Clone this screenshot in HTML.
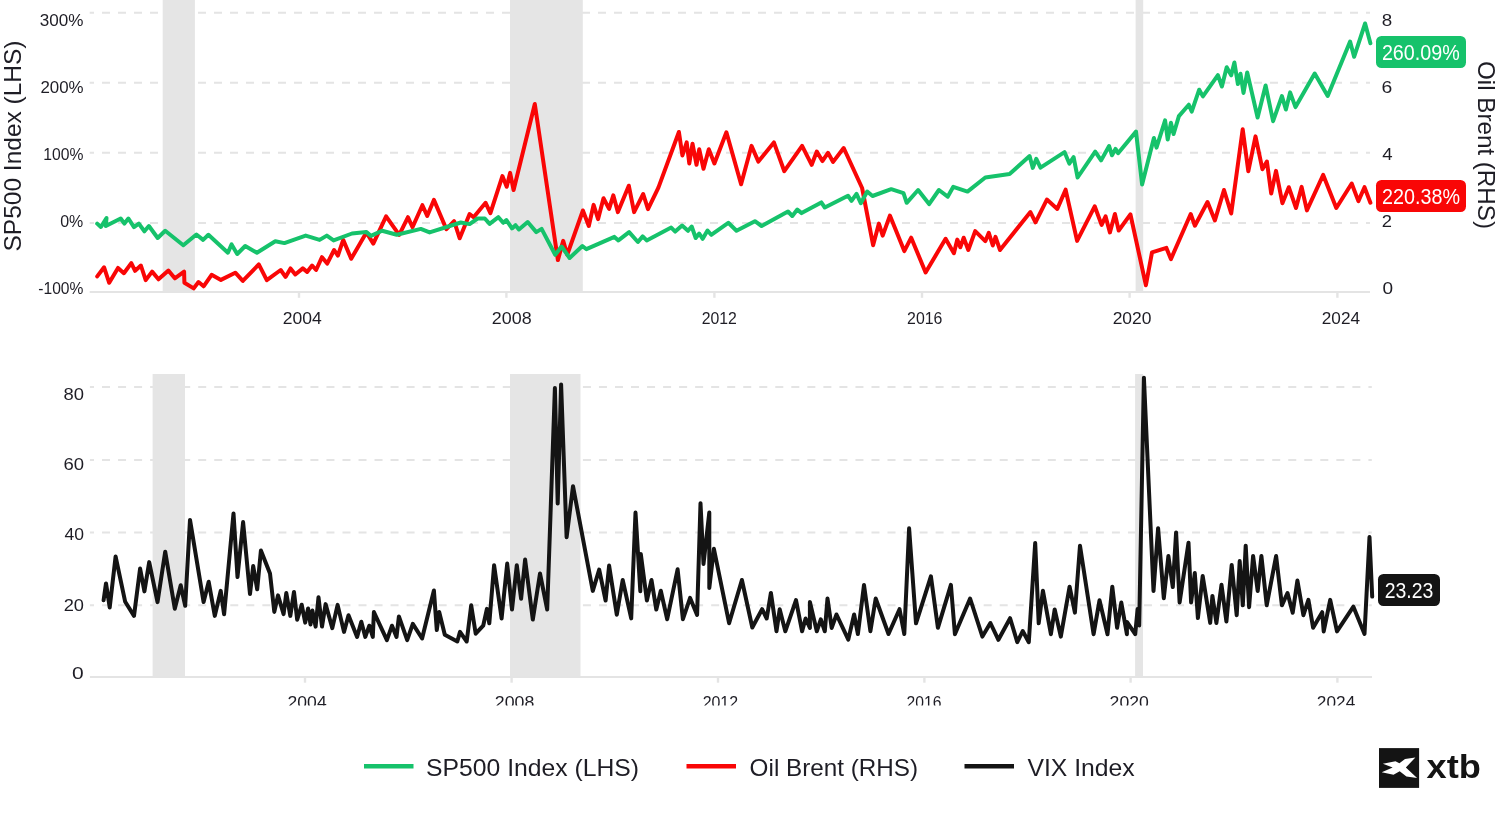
<!DOCTYPE html>
<html lang="en"><head><meta charset="utf-8"><title>SP500 Index, Oil Brent and VIX Index</title>
<style>html,body{margin:0;padding:0;background:#fff}body{width:1500px;height:820px;overflow:hidden}svg{display:block}text{font-family:"Liberation Sans", Arial, sans-serif;fill:#1e1d25}.t{font-size:16.5px}.big{font-size:24px}.bd{font-size:22.5px;fill:#fff}.logo{font-size:34px;font-weight:bold;fill:#141414}.ln{fill:none;stroke-width:4.0;stroke-linejoin:round;stroke-linecap:round}</style></head><body>
<svg width="1500" height="820" viewBox="0 0 1500 820" style="will-change:transform">
<rect width="1500" height="820" fill="#fff"/>
<g id="top">
<line x1="89.7" x2="1370" y1="12.7" y2="12.7" stroke="#e4e4e4" stroke-width="2" stroke-dasharray="8 8" stroke-dashoffset="3.7"/>
<line x1="89.7" x2="1370" y1="82.7" y2="82.7" stroke="#e4e4e4" stroke-width="2" stroke-dasharray="8 8" stroke-dashoffset="3.7"/>
<line x1="89.7" x2="1370" y1="152.7" y2="152.7" stroke="#e4e4e4" stroke-width="2" stroke-dasharray="8 8" stroke-dashoffset="3.7"/>
<line x1="89.7" x2="1370" y1="222.9" y2="222.9" stroke="#e4e4e4" stroke-width="2" stroke-dasharray="8 8" stroke-dashoffset="3.7"/>
<rect x="162.7" y="0" width="32.2" height="292" fill="#e5e5e5"/>
<rect x="510" y="0" width="72.8" height="292" fill="#e5e5e5"/>
<rect x="1135.6" y="0" width="7.6" height="292" fill="#e5e5e5"/>
<line x1="89.7" x2="1370" y1="292" y2="292" stroke="#e4e4e4" stroke-width="2"/>
<line x1="299" x2="299" y1="292" y2="297.8" stroke="#e4e4e4" stroke-width="2.4"/>
<line x1="506.4" x2="506.4" y1="292" y2="297.8" stroke="#e4e4e4" stroke-width="2.4"/>
<line x1="714.4" x2="714.4" y1="292" y2="297.8" stroke="#e4e4e4" stroke-width="2.4"/>
<line x1="922" x2="922" y1="292" y2="297.8" stroke="#e4e4e4" stroke-width="2.4"/>
<line x1="1129.6" x2="1129.6" y1="292" y2="297.8" stroke="#e4e4e4" stroke-width="2.4"/>
<line x1="1337.4" x2="1337.4" y1="292" y2="297.8" stroke="#e4e4e4" stroke-width="2.4"/>
<text class="t" x="39.83" y="26" textLength="43.67" lengthAdjust="spacingAndGlyphs">300%</text>
<text class="t" x="40.44" y="93" textLength="43.19" lengthAdjust="spacingAndGlyphs">200%</text>
<text class="t" x="43.36" y="159.9" textLength="40.15" lengthAdjust="spacingAndGlyphs">100%</text>
<text class="t" x="60.18" y="226.7" textLength="23.08" lengthAdjust="spacingAndGlyphs">0%</text>
<text class="t" x="38.26" y="293.7" textLength="45.15" lengthAdjust="spacingAndGlyphs">-100%</text>
<text class="t" x="1381.87" y="25.6" textLength="10.46" lengthAdjust="spacingAndGlyphs">8</text>
<text class="t" x="1381.47" y="92.6" textLength="10.78" lengthAdjust="spacingAndGlyphs">6</text>
<text class="t" x="1382.26" y="159.7" textLength="10.38" lengthAdjust="spacingAndGlyphs">4</text>
<text class="t" x="1381.89" y="226.9" textLength="10.23" lengthAdjust="spacingAndGlyphs">2</text>
<text class="t" x="1382.59" y="293.8" textLength="10.59" lengthAdjust="spacingAndGlyphs">0</text>
<text class="t" x="282.67" y="324.3" textLength="39.02" lengthAdjust="spacingAndGlyphs">2004</text>
<text class="t" x="491.80" y="324.3" textLength="39.80" lengthAdjust="spacingAndGlyphs">2008</text>
<text class="t" x="701.67" y="324.3" textLength="35.16" lengthAdjust="spacingAndGlyphs">2012</text>
<text class="t" x="907.12" y="324.3" textLength="35.32" lengthAdjust="spacingAndGlyphs">2016</text>
<text class="t" x="1112.65" y="324.3" textLength="38.86" lengthAdjust="spacingAndGlyphs">2020</text>
<text class="t" x="1321.78" y="324.3" textLength="38.27" lengthAdjust="spacingAndGlyphs">2024</text>
<text class="big" transform="translate(21.3,146) rotate(-90)" text-anchor="middle" textLength="211" lengthAdjust="spacingAndGlyphs">SP500 Index (LHS)</text>
<text class="big" transform="translate(1478.4,145) rotate(90)" text-anchor="middle" textLength="168" lengthAdjust="spacingAndGlyphs">Oil Brent (RHS)</text>
<path class="ln" stroke="#f90606" d="M97.2,276.4 L104.1,267.3 L109.2,282.8 L118,267.9 L123.9,273.2 L131.3,263.1 L135.1,270.8 L140.9,265.5 L145.7,280.1 L152.1,271.6 L158.5,279.3 L168.4,270.5 L174.8,278.3 L184.1,271.6 L184.4,282.8 L193.7,288.4 L198.5,282 L203.6,286.3 L211.6,274.8 L220.9,279.9 L235.3,272.7 L242.8,280.9 L258.8,264.4 L266.8,280.1 L280.7,270 L285.5,276.9 L290.5,268.4 L295.3,274.5 L302.8,268.4 L307.1,271.9 L312.1,265.5 L316.1,270 L322,257.2 L327.2,263.6 L334.1,250 L337.9,255.6 L343.2,239.9 L351.2,258.8 L366.4,232.4 L373.3,243.6 L386.1,216.4 L399.2,234.8 L408,217.2 L412.5,227.3 L422.4,205.2 L427.2,215.9 L433.9,199.9 L446.4,229.2 L454.1,221.2 L459.7,238.3 L469.6,214 L473.6,217.2 L485.6,202.8 L490.4,213.2 L502.4,176.1 L506.7,186.8 L510.1,172.9 L513.6,190 L534.8,104 L557.9,260.1 L563.2,240.9 L567.2,254.8 L582.9,210.5 L588.8,226 L593.6,204.9 L598.1,219.1 L603.5,198.3 L609.1,208.9 L613.3,195.3 L617.9,212.1 L628.8,185.7 L634.1,212.1 L643.2,194 L648,209.2 L658.4,187.6 L678.9,132 L682.4,155.5 L686.7,142.4 L689.3,163.5 L692.5,143.7 L696.5,164.8 L699.2,149.3 L703.5,168.8 L708.8,149.3 L714.4,163.5 L726.4,132.3 L741.1,184.3 L751.5,145.9 L758.4,161.6 L773.9,142.4 L784.3,171.2 L802.1,145.9 L811.7,164.8 L816.8,151.5 L822.4,161.1 L828,152.8 L833.1,161.9 L843.7,148 L862.1,188 L873.1,245.2 L878.9,223.6 L882.7,235.6 L889.9,215.6 L904.3,251.1 L911.2,237.7 L925.6,272.4 L945.6,238.8 L953.9,253.2 L957.3,239.6 L960.3,247.3 L963.7,237.7 L968.3,250 L975.2,231.1 L985.3,241.2 L988.8,232.9 L992.8,245.5 L995.5,236.9 L1000,250 L1030.4,212.1 L1035.5,222.3 L1046.9,199.6 L1057.3,208.9 L1065.6,189.7 L1077.1,240.9 L1094.7,206.3 L1101.6,224.9 L1105.6,216.4 L1109.9,232.4 L1114.9,214 L1118.7,230.5 L1130.4,214.3 L1145.9,285.2 L1152,252.4 L1166.4,247.9 L1170.9,259.1 L1190.7,214 L1194.9,225.7 L1207.5,202 L1214.9,220.4 L1224,190 L1231.2,213.5 L1242.7,129.2 L1248.3,171.3 L1255.5,136.4 L1262.4,169.2 L1266.9,161.5 L1271.2,193.6 L1276,170.9 L1282.4,203.2 L1288.8,187.2 L1296,208 L1301.6,186.9 L1306.9,210.4 L1323.2,174.9 L1336.3,208 L1351.7,183.5 L1358.4,201.1 L1364.5,187.2 L1370.4,202.7"/>
<path class="ln" stroke="#16c26b" d="M97.2,223.6 L100.9,227 L106.5,218 L105.8,226 L120.7,218.5 L124.4,223.6 L128.4,218.5 L134,227.1 L138.8,223.6 L144.4,231.3 L148.9,226 L157.7,238 L165.2,230.8 L183.3,245.2 L196.4,234.5 L203.1,239.9 L208.4,234.8 L227.9,252.7 L231.6,244.4 L237.2,254 L245.2,246 L256.9,252.7 L275.3,241.2 L284.4,243.1 L305.7,235.6 L319.6,239.9 L326.8,235.6 L333.6,240.4 L352,233.5 L366.4,232.1 L370.9,235.9 L382.1,230.8 L396.8,234.8 L420.8,228.9 L429.6,232.4 L460.8,222.5 L469.6,224.1 L477.6,218.5 L484.8,218.5 L489.6,223.9 L498.4,217.2 L503.2,222.8 L506.4,220.1 L512,228.4 L515.5,225.2 L518.9,229.5 L527.7,222 L536.3,232.1 L541.6,228.9 L555.2,254.8 L561.6,246.5 L569.6,258 L582.4,246 L586.4,249.2 L614.4,236.9 L618.4,240.4 L629.1,232.1 L637.9,242 L642.7,236.4 L646.7,240.4 L671.2,227.6 L675.2,231.6 L682.1,225.5 L688,230.8 L691.7,226.5 L695.7,238 L699.2,233.5 L702.7,238.8 L707.5,230.5 L711.2,234.8 L728.3,222.8 L736.5,230.8 L754.9,221.2 L761.6,226 L788,211.5 L792.3,216 L797.3,209.6 L801.6,213.1 L821.3,202.4 L824.8,207.5 L848,195.7 L851.5,200.8 L856.5,193.9 L860.8,203.2 L867.2,191.5 L872.5,196 L891.2,189.2 L903.5,193.2 L906.7,202.8 L918.1,190 L929.1,204.1 L938.9,190 L947.7,196.7 L953.3,186.8 L967.5,191.6 L985.3,177.5 L1009.6,174 L1029.6,156.1 L1032.8,167.9 L1036.3,158.8 L1040.5,167.6 L1064.5,152.1 L1069.3,163.6 L1073.6,157.2 L1077.6,177.5 L1095.2,151.6 L1101.1,160.4 L1109.1,146 L1112,155.3 L1115.5,148.9 L1118.1,153.2 L1136,131.6 L1142.1,184.4 L1153.9,138 L1156.5,147.6 L1165.1,120.4 L1167.7,139.6 L1170.9,122.8 L1173.6,134 L1178.9,116.1 L1188.8,104.7 L1191.7,111.6 L1199.2,89.7 L1202.9,96.4 L1217.9,75.1 L1221.9,86.5 L1226.7,67.3 L1231.2,75.3 L1234.4,62.5 L1237.9,84.1 L1240.5,73.7 L1243.5,92.9 L1247.2,72.4 L1257.6,117.5 L1265.6,85.5 L1273.1,121.2 L1281.9,96.1 L1285.9,109.5 L1290.1,92.4 L1295.5,107.1 L1314.7,73.5 L1327.7,96 L1350.1,41.6 L1354.1,56.8 L1365.1,23.5 L1370.4,43.2"/>
<rect x="1376" y="36" width="90" height="32" rx="5.5" fill="#16c26b"/>
<text class="bd" x="1381.89" y="60" textLength="77.84" lengthAdjust="spacingAndGlyphs">260.09%</text>
<rect x="1376" y="180" width="90" height="32" rx="5.5" fill="#f90606"/>
<text class="bd" x="1382.06" y="203.8" textLength="77.91" lengthAdjust="spacingAndGlyphs">220.38%</text>
</g>
<g id="bottom">
<line x1="89.9" x2="1371.8" y1="387.1" y2="387.1" stroke="#e4e4e4" stroke-width="2" stroke-dasharray="8 8.03" stroke-dashoffset="3.9"/>
<line x1="89.9" x2="1371.8" y1="459.9" y2="459.9" stroke="#e4e4e4" stroke-width="2" stroke-dasharray="8 8.03" stroke-dashoffset="3.9"/>
<line x1="89.9" x2="1371.8" y1="532.4" y2="532.4" stroke="#e4e4e4" stroke-width="2" stroke-dasharray="8 8.03" stroke-dashoffset="3.9"/>
<line x1="89.9" x2="1371.8" y1="605.3" y2="605.3" stroke="#e4e4e4" stroke-width="2" stroke-dasharray="8 8.03" stroke-dashoffset="3.9"/>
<rect x="152.6" y="374" width="32.4" height="302.9" fill="#e5e5e5"/>
<rect x="510" y="374" width="70.5" height="302.9" fill="#e5e5e5"/>
<rect x="1135.1" y="374" width="7.9" height="302.9" fill="#e5e5e5"/>
<line x1="89.9" x2="1372" y1="676.9" y2="676.9" stroke="#e4e4e4" stroke-width="2"/>
<line x1="305" x2="305" y1="676.9" y2="682.7" stroke="#e4e4e4" stroke-width="2.4"/>
<line x1="511.6" x2="511.6" y1="676.9" y2="682.7" stroke="#e4e4e4" stroke-width="2.4"/>
<line x1="718" x2="718" y1="676.9" y2="682.7" stroke="#e4e4e4" stroke-width="2.4"/>
<line x1="924.4" x2="924.4" y1="676.9" y2="682.7" stroke="#e4e4e4" stroke-width="2.4"/>
<line x1="1130.6" x2="1130.6" y1="676.9" y2="682.7" stroke="#e4e4e4" stroke-width="2.4"/>
<line x1="1337.4" x2="1337.4" y1="676.9" y2="682.7" stroke="#e4e4e4" stroke-width="2.4"/>
<text class="t" x="63.59" y="400.1" textLength="20.50" lengthAdjust="spacingAndGlyphs">80</text>
<text class="t" x="63.40" y="469.9" textLength="20.59" lengthAdjust="spacingAndGlyphs">60</text>
<text class="t" x="64.40" y="540.3" textLength="19.50" lengthAdjust="spacingAndGlyphs">40</text>
<text class="t" x="63.66" y="610.5" textLength="20.29" lengthAdjust="spacingAndGlyphs">20</text>
<text class="t" x="72.02" y="679.4" textLength="11.70" lengthAdjust="spacingAndGlyphs">0</text>
<clipPath id="cx"><rect x="0" y="680" width="1500" height="25.6"/></clipPath>
<g clip-path="url(#cx)">
<text class="t" x="287.62" y="708.4" textLength="39.04" lengthAdjust="spacingAndGlyphs">2004</text>
<text class="t" x="494.86" y="708.4" textLength="39.49" lengthAdjust="spacingAndGlyphs">2008</text>
<text class="t" x="702.64" y="708.4" textLength="35.50" lengthAdjust="spacingAndGlyphs">2012</text>
<text class="t" x="906.50" y="708.4" textLength="34.91" lengthAdjust="spacingAndGlyphs">2016</text>
<text class="t" x="1109.63" y="708.4" textLength="39.24" lengthAdjust="spacingAndGlyphs">2020</text>
<text class="t" x="1316.89" y="708.4" textLength="38.36" lengthAdjust="spacingAndGlyphs">2024</text>
</g>
<path class="ln" stroke="#141414" d="M103.6,600.2 L106,583.4 L109.7,607.4 L115.6,556.5 L125.2,601.8 L134,615.9 L140.1,568.5 L144.4,591.4 L149.2,562.1 L157.5,602.1 L165.2,551.7 L174.8,608.7 L180.7,585.3 L185.2,605.8 L190,519.9 L203.6,602.1 L208.7,581.8 L214.8,615.9 L220.7,590.9 L224.1,614.3 L233.5,513.5 L237.5,577 L243.1,522.1 L250,594.1 L253.2,566.1 L257.2,589.3 L260.9,550.6 L270,573.5 L274.3,611.9 L278,595.4 L283.6,614.1 L286.3,593 L290.3,615.9 L294,591.9 L297.2,619.7 L301.7,604.7 L305.2,622.6 L308.1,608.5 L310.5,624.5 L312.4,610.6 L315.6,626.6 L318.5,597.3 L322,626.6 L325.6,604.1 L332.3,628.1 L337.6,604.9 L344,631.9 L348.5,615.3 L357.1,636.9 L361.3,621.7 L365.3,636.9 L369.3,625.7 L372.8,636.9 L373.9,612.1 L386.9,640.1 L392,625.7 L396.5,636.9 L398.9,616.4 L407.2,640.1 L412.8,623.9 L422.1,638.5 L433.9,590.5 L436.8,630 L439.2,612.1 L444.8,634.8 L457.3,641.5 L460,631.9 L466.7,641.5 L471.2,605.2 L475.7,633.7 L483.2,625.7 L486.9,608.9 L489.3,623.3 L494.1,565.2 L501.6,618.5 L507.2,563.6 L512,609.5 L516.8,565.2 L521.1,598.8 L525.1,559.6 L532.8,619.6 L540,573.5 L547.2,609.5 L554.9,388.1 L557.7,503.5 L561.1,384.4 L566.6,537.3 L573,486.2 L592.8,590.9 L599.2,569.6 L605.6,600.5 L609.1,565.6 L616.8,614.7 L622.7,580 L631.2,618.4 L635.5,512.5 L640.3,591.2 L640.8,554.1 L646.9,600.5 L651.5,580 L656.3,609.6 L660.8,590.7 L667.2,619.2 L677.6,569.3 L682.9,619.2 L690.1,597.9 L697.1,614.9 L700.5,503.2 L703.5,564 L709.3,512.5 L709.3,588 L713.9,548.8 L729.1,623.2 L741.9,580 L752.3,627.5 L762.1,609.2 L766.7,618.5 L770.9,592.9 L776.5,631.3 L779.7,609.2 L785.3,631.3 L796,600.1 L802.1,631.3 L805.6,618.5 L809.9,627.9 L809.9,602 L816.8,631.3 L820.8,619.3 L824.8,631.3 L827.5,598.5 L831.7,627.9 L836.5,614.5 L848.3,639.6 L854.1,614.5 L857.9,634 L864,584.9 L870.4,631.3 L875.7,598.5 L888.5,634 L899.5,609.2 L904.3,634 L909.1,528.3 L916,623.3 L930.9,576.3 L937.9,627.8 L950.9,584.9 L954.9,634.2 L970.1,598.5 L982.4,636.6 L990.4,623 L998.4,639.8 L1010.1,618.2 L1017.3,642.2 L1022.7,631 L1028.8,642.2 L1035.2,543 L1038.7,623.3 L1042.9,590.7 L1050.9,634.2 L1054.7,609.4 L1060.8,636.6 L1069.6,586.7 L1074.9,612.6 L1080,545.7 L1093.6,634.2 L1099.5,600.3 L1107.5,634.2 L1112.3,586.7 L1117.1,627.8 L1121.3,602.5 L1126.9,634.2 L1126.9,621.9 L1135.2,634.2 L1137.6,609.1 L1139.2,625.4 L1143.9,377.7 L1153.5,591 L1158.1,528.2 L1163.8,598.2 L1168.4,556 L1172.8,587.1 L1176.1,532.4 L1179.6,602.4 L1188.5,542.7 L1191.1,602.4 L1194.8,573.1 L1197.9,618.1 L1202.7,576 L1210.2,622.9 L1212.4,595.9 L1216.4,622.9 L1221.5,584.8 L1226.4,621.5 L1231.7,564.9 L1236.7,615.2 L1239.7,561.1 L1242.8,605.3 L1245.7,545.7 L1249.1,607.2 L1253.1,556 L1257.7,591 L1261.4,556 L1266.7,605.3 L1276.1,556 L1281.9,605.3 L1287.5,593 L1292.7,612.7 L1297.4,580.6 L1303.4,615.2 L1308.4,599.9 L1313.1,627.7 L1322.2,612.2 L1323.7,631.4 L1330.2,599.9 L1337,631.4 L1353.4,606.7 L1364.5,633.9 L1369.5,537 L1372.2,596.6"/>
<rect x="1378" y="574" width="62" height="32" rx="5.5" fill="#141414"/>
<text class="bd" x="1384.67" y="598" textLength="48.64" lengthAdjust="spacingAndGlyphs">23.23</text>
</g>
<g id="legend">
<line x1="364" x2="413.5" y1="766.3" y2="766.3" stroke="#16c26b" stroke-width="4.5"/>
<text class="big" x="426.11" y="776" textLength="212.95" lengthAdjust="spacingAndGlyphs">SP500 Index (LHS)</text>
<line x1="686.5" x2="736" y1="766.3" y2="766.3" stroke="#f90606" stroke-width="4.5"/>
<text class="big" x="749.63" y="776" textLength="168.43" lengthAdjust="spacingAndGlyphs">Oil Brent (RHS)</text>
<line x1="964.5" x2="1014" y1="766.3" y2="766.3" stroke="#141414" stroke-width="4.5"/>
<text class="big" x="1027.52" y="776" textLength="107.17" lengthAdjust="spacingAndGlyphs">VIX Index</text>
</g>
<g id="logo">
<rect x="1379" y="748.1" width="40.1" height="39.8" fill="#141414"/>
<path fill="#fff" d="M1382.86,763.80 L1395.48,761.27 L1399.41,763.24 L1405.02,759.03 L1415.40,757.46 L1405.86,767.45 L1417.09,778.11 L1406.43,776.43 L1399.69,771.37 L1393.52,774.74 L1381.73,772.22 L1392.68,767.45 Z"/>
<text class="logo" x="1426.57" y="777.6" textLength="54.29" lengthAdjust="spacingAndGlyphs">xtb</text>
</g>
</svg></body></html>
